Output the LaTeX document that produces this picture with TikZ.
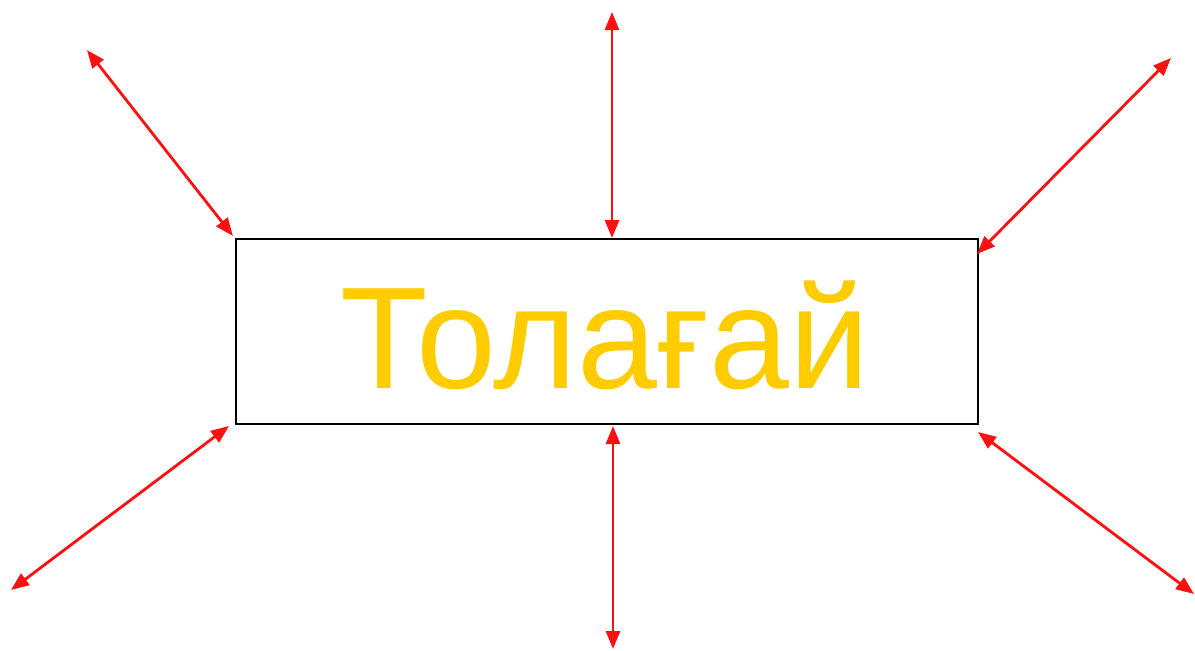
\documentclass[tikz,border=0pt]{standalone}
\usepackage{fontspec}
\setmainfont{Liberation Sans}
\usetikzlibrary{arrows.meta}
\definecolor{txtyellow}{HTML}{FFCC00}
\definecolor{arrred}{HTML}{FF1010}
\tikzset{
  boxstyle/.style={draw=black, line width=1.6pt, minimum width=742pt, minimum height=185pt, inner sep=0pt},
  lblstyle/.style={text=txtyellow, font=\fontsize{145}{150}\selectfont, inner sep=0pt},
  link/.style={draw=arrred, line width=2.8pt, {Triangle[length=18pt,width=14pt]}-{Triangle[length=18pt,width=14pt]}}
}
\begin{document}
\begin{tikzpicture}[x=1pt,y=-1pt]
\useasboundingbox (0,0) rectangle (1195,651);
\node[boxstyle] (box) at (607,331.5) {};
\node[lblstyle, anchor=base, xscale=0.99] (lbl) at (605,388) {Толағай};
\coordinate (a1) at (87,50);   \coordinate (b1) at (233,236);
\coordinate (a2) at (612,12);  \coordinate (b2) at (612,238);
\coordinate (a3) at (1171,58); \coordinate (b3) at (977,254);
\coordinate (a4) at (11,590);  \coordinate (b4) at (229,426);
\coordinate (a5) at (613,649); \coordinate (b5) at (613,426);
\coordinate (a6) at (1194,594);\coordinate (b6) at (978,432);
\foreach \i in {1,...,6} { \draw[link] (a\i) -- (b\i); }
\end{tikzpicture}
\end{document}
